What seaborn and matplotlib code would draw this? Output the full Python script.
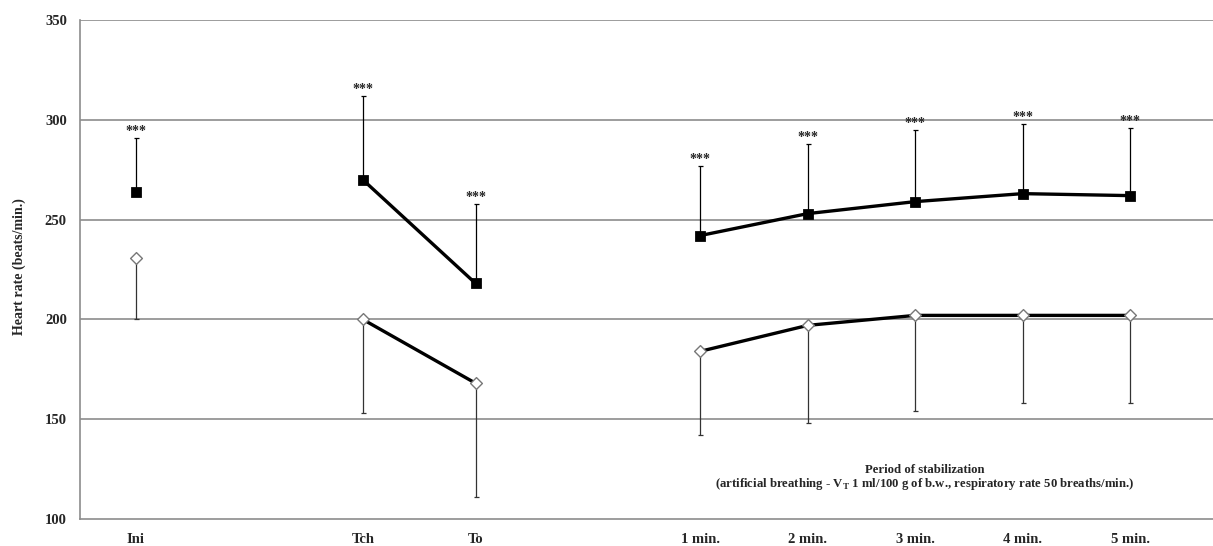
import numpy as np
import pandas as pd
import matplotlib
matplotlib.use('Agg')
import matplotlib.pyplot as plt
import seaborn as sns

labels = ['Ini', 'Tch', 'To', '1 min.', '2 min.', '3 min.', '4 min.', '5 min.']
x_pos = [0, 2.11, 3.16, 5.25, 6.25, 7.25, 8.25, 9.25]
segment = [0, 1, 1, 2, 2, 2, 2, 2]

# filled squares (upper group), error bars drawn upward
hr_a = [264, 270, 218, 242, 253, 259, 263, 262]
sd_a = [27, 42, 40, 35, 35, 36, 35, 34]
# open diamonds (lower group), error bars drawn downward
hr_b = [231, 200, 168, 184, 197, 202, 202, 202]
sd_b = [31, 47, 57, 42, 49, 48, 44, 44]
signif = ['***'] * 8

df = pd.DataFrame({'x': x_pos, 'seg': segment, 'a': hr_a, 'sa': sd_a,
                   'b': hr_b, 'sb': sd_b, 'lab': labels})

sns.set_style('white')
plt.rcParams['font.family'] = ['Liberation Serif', 'DejaVu Serif']

fig = plt.figure(figsize=(12.13, 5.46), dpi=100)
ax = fig.add_axes([0.066, 0.0495, 0.934, 0.9139])

for v in [150, 200, 250, 300, 350]:
    ax.axhline(v, color='#8c8c8c', lw=1.2, zorder=0)

# error bars
ax.errorbar(df['x'], df['a'], yerr=[np.zeros(len(df)), df['sa']], fmt='none',
            ecolor='black', elinewidth=0.9, capsize=1.8, capthick=0.9, zorder=2)
ax.errorbar(df['x'], df['b'], yerr=[df['sb'], np.zeros(len(df))], fmt='none',
            ecolor='#333333', elinewidth=0.9, capsize=1.8, capthick=0.9, zorder=2)

# connecting lines inside each period
sns.lineplot(data=df, x='x', y='a', units='seg', estimator=None, color='black',
             lw=2.4, sort=False, ax=ax, zorder=3)
sns.lineplot(data=df, x='x', y='b', units='seg', estimator=None, color='black',
             lw=2.4, sort=False, ax=ax, zorder=3)

sns.scatterplot(data=df, x='x', y='a', marker='s', s=50, color='black',
                edgecolor='black', ax=ax, zorder=4)
sns.scatterplot(data=df, x='x', y='b', marker='D', s=36, color='white',
                edgecolor='#777777', linewidth=1.0, ax=ax, zorder=4)

for xi, top, s in zip(df['x'], df['a'] + df['sa'], signif):
    ax.annotate(s, (xi, top), xytext=(0, 0), textcoords='offset points',
                ha='center', va='bottom', fontsize=10, fontweight='bold')

ax.text(7.34, 124.6, 'Period of stabilization', ha='center', va='center',
        fontsize=9.2, fontweight='bold')
ax.text(7.34, 117.6, '(artificial breathing - V$_\\mathregular{T}$ 1 ml/100 g of b.w., '
        'respiratory rate 50 breaths/min.)',
        ha='center', va='center', fontsize=9.2, fontweight='bold')

ax.set_xlim(-0.52, 10.02)
ax.set_ylim(100, 350)
ax.set_yticks([100, 150, 200, 250, 300, 350])
ax.set_xticks(x_pos)
ax.set_xticklabels(labels, fontsize=10.5, fontweight='bold')
plt.yticks(fontsize=10.5, fontweight='bold')
ax.tick_params(axis='y', length=3, color='#8c8c8c', pad=6.5)
ax.tick_params(axis='x', length=0, pad=10)
ax.set_xlabel('')
ax.set_ylabel('Heart rate (beats/min.)', fontsize=10, fontweight='bold')
ax.yaxis.set_label_coords(-0.054, 0.505)
ax.yaxis.label.set_va('center')

for side in ['top', 'right']:
    ax.spines[side].set_visible(False)
for side in ['left', 'bottom']:
    ax.spines[side].set_color('#8c8c8c')
    ax.spines[side].set_linewidth(1.2)

fig.savefig('out.png', dpi=100)
